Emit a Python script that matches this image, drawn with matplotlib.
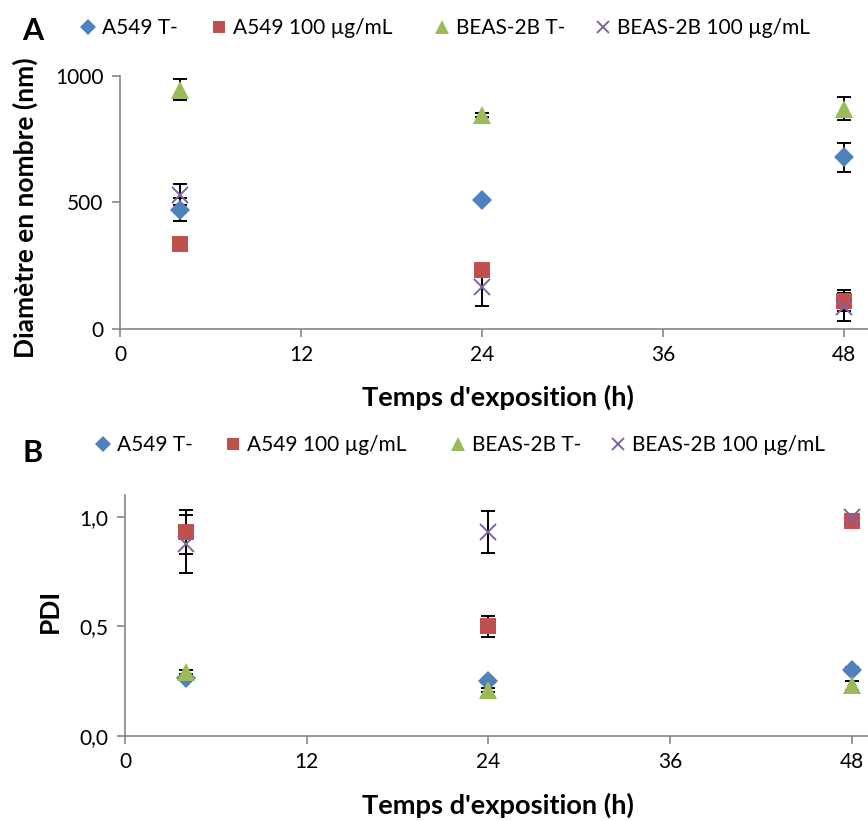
import matplotlib
matplotlib.use('Agg')
import matplotlib.pyplot as plt
from matplotlib.lines import Line2D
from matplotlib.ticker import FuncFormatter

plt.rcParams['font.family'] = ['Lato', 'DejaVu Sans']

# exposure times (h)
times = [4, 24, 48]
series_names = ['A549 T-', 'A549 100 µg/mL', 'BEAS-2B T-', 'BEAS-2B 100 µg/mL']

# panel A: number diameter (nm) and error
diam_a549_ctrl = [470, 510, 677]
diam_a549_ctrl_err = [45, 8, 56]
diam_a549_100 = [336, 232, 111]
diam_a549_100_err = [8, 14, 40]
diam_beas_ctrl = [945, 845, 870]
diam_beas_ctrl_err = [43, 8, 45]
diam_beas_100 = [530, 166, 87]
diam_beas_100_err = [40, 76, 55]

# panel B: PDI and error
pdi_a549_ctrl = [0.265, 0.25, 0.302]
pdi_a549_ctrl_err = [0.008, 0.008, 0.012]
pdi_a549_100 = [0.93, 0.50, 0.98]
pdi_a549_100_err = [0.10, 0.047, 0.01]
pdi_beas_ctrl = [0.29, 0.208, 0.23]
pdi_beas_ctrl_err = [0.008, 0.008, 0.02]
pdi_beas_100 = [0.877, 0.93, 0.999]
pdi_beas_100_err = [0.132, 0.095, 0.01]

styles = [
    dict(marker='D', color='#4F81BD', ms=10),
    dict(marker='s', color='#C0504D', ms=11),
    dict(marker='^', color='#9BBB59', ms=12.5),
    dict(marker='x', color='#8064A2', ms=11, mew=1.4),
]

W, H = 868, 821
fig = plt.figure(figsize=(W / 100, H / 100), dpi=100)


def px_box(left, right, top, bottom):
    return [left / W, 1 - bottom / H, (right - left) / W, (bottom - top) / H]


def draw_panel(ax, values, errors):
    for vals, errs, st in zip(values, errors, styles):
        ax.errorbar(times, vals, yerr=errs, fmt='none', ecolor='black',
                    elinewidth=1.4, capsize=5, capthick=1.4, zorder=2)
        kw = dict(st)
        mew = kw.pop('mew', 0)
        ax.plot(times, vals, linestyle='none', marker=kw['marker'],
                color=kw['color'], markersize=kw['ms'], markeredgewidth=mew,
                zorder=3)
    for s in ['top', 'right']:
        ax.spines[s].set_visible(False)
    for s in ['left', 'bottom']:
        ax.spines[s].set_color('#868686')
        ax.spines[s].set_linewidth(1.2)
    ax.set_xticks([0, 12, 24, 36, 48])
    ax.tick_params(direction='out', length=6, width=1.2, color='#868686',
                   labelsize=15, pad=6)


def add_legend(y_px, marker_xs):
    fs = 15
    for name, st, mx in zip(series_names, styles, marker_xs):
        h = Line2D([], [], linestyle='none', marker=st['marker'],
                   color=st['color'], markersize=st['ms'] * 0.8,
                   markeredgewidth=st.get('mew', 0))
        hl = 0.8
        x0 = mx - hl * fs * 100 / 72 / 2
        fig.legend([h], [name], loc='center left',
                   bbox_to_anchor=(x0 / W, 1 - y_px / H), frameon=False,
                   fontsize=fs, handlelength=hl, handletextpad=0.25,
                   borderpad=0, borderaxespad=0)


def set_labels(ax, xlabel, ylabel, xpos, ypos):
    ax.set_xlabel(xlabel, fontsize=19.6, fontweight='bold', va='center')
    ax.set_ylabel(ylabel, fontsize=19, fontweight='bold', va='center')
    ax.xaxis.set_label_coords(*xpos)
    ax.yaxis.set_label_coords(*ypos)


# panel A
axA = fig.add_axes(px_box(120, 868, 75.7, 328.7))
draw_panel(axA,
           [diam_a549_ctrl, diam_a549_100, diam_beas_ctrl, diam_beas_100],
           [diam_a549_ctrl_err, diam_a549_100_err, diam_beas_ctrl_err, diam_beas_100_err])
axA.set_xlim(0, 49.6)
axA.set_ylim(0, 1000)
axA.set_yticks([0, 500, 1000])
set_labels(axA, "Temps d'exposition (h)", 'Diamètre en nombre (nm)',
           (0.505, -0.27), (-0.126, 0.48))

# panel B
axB = fig.add_axes(px_box(125, 868, 495, 735.7))
draw_panel(axB,
           [pdi_a549_ctrl, pdi_a549_100, pdi_beas_ctrl, pdi_beas_100],
           [pdi_a549_ctrl_err, pdi_a549_100_err, pdi_beas_ctrl_err, pdi_beas_100_err])
axB.set_xlim(0, 49.06)
axB.set_ylim(0, 1.1)
axB.set_yticks([0, 0.5, 1.0])
axB.yaxis.set_major_formatter(FuncFormatter(lambda v, p: f'{v:.1f}'.replace('.', ',')))
set_labels(axB, "Temps d'exposition (h)", 'PDI', (0.502, -0.29), (-0.101, 0.52))

add_legend(28, [88, 219, 442, 603])
add_legend(445, [103, 233, 458, 618])

fig.text(33 / W, 1 - 31 / H, 'A', fontsize=22, fontweight='bold', ha='center', va='center')
fig.text(33 / W, 1 - 453 / H, 'B', fontsize=22, fontweight='bold', ha='center', va='center')

fig.savefig('out.png', dpi=100)
